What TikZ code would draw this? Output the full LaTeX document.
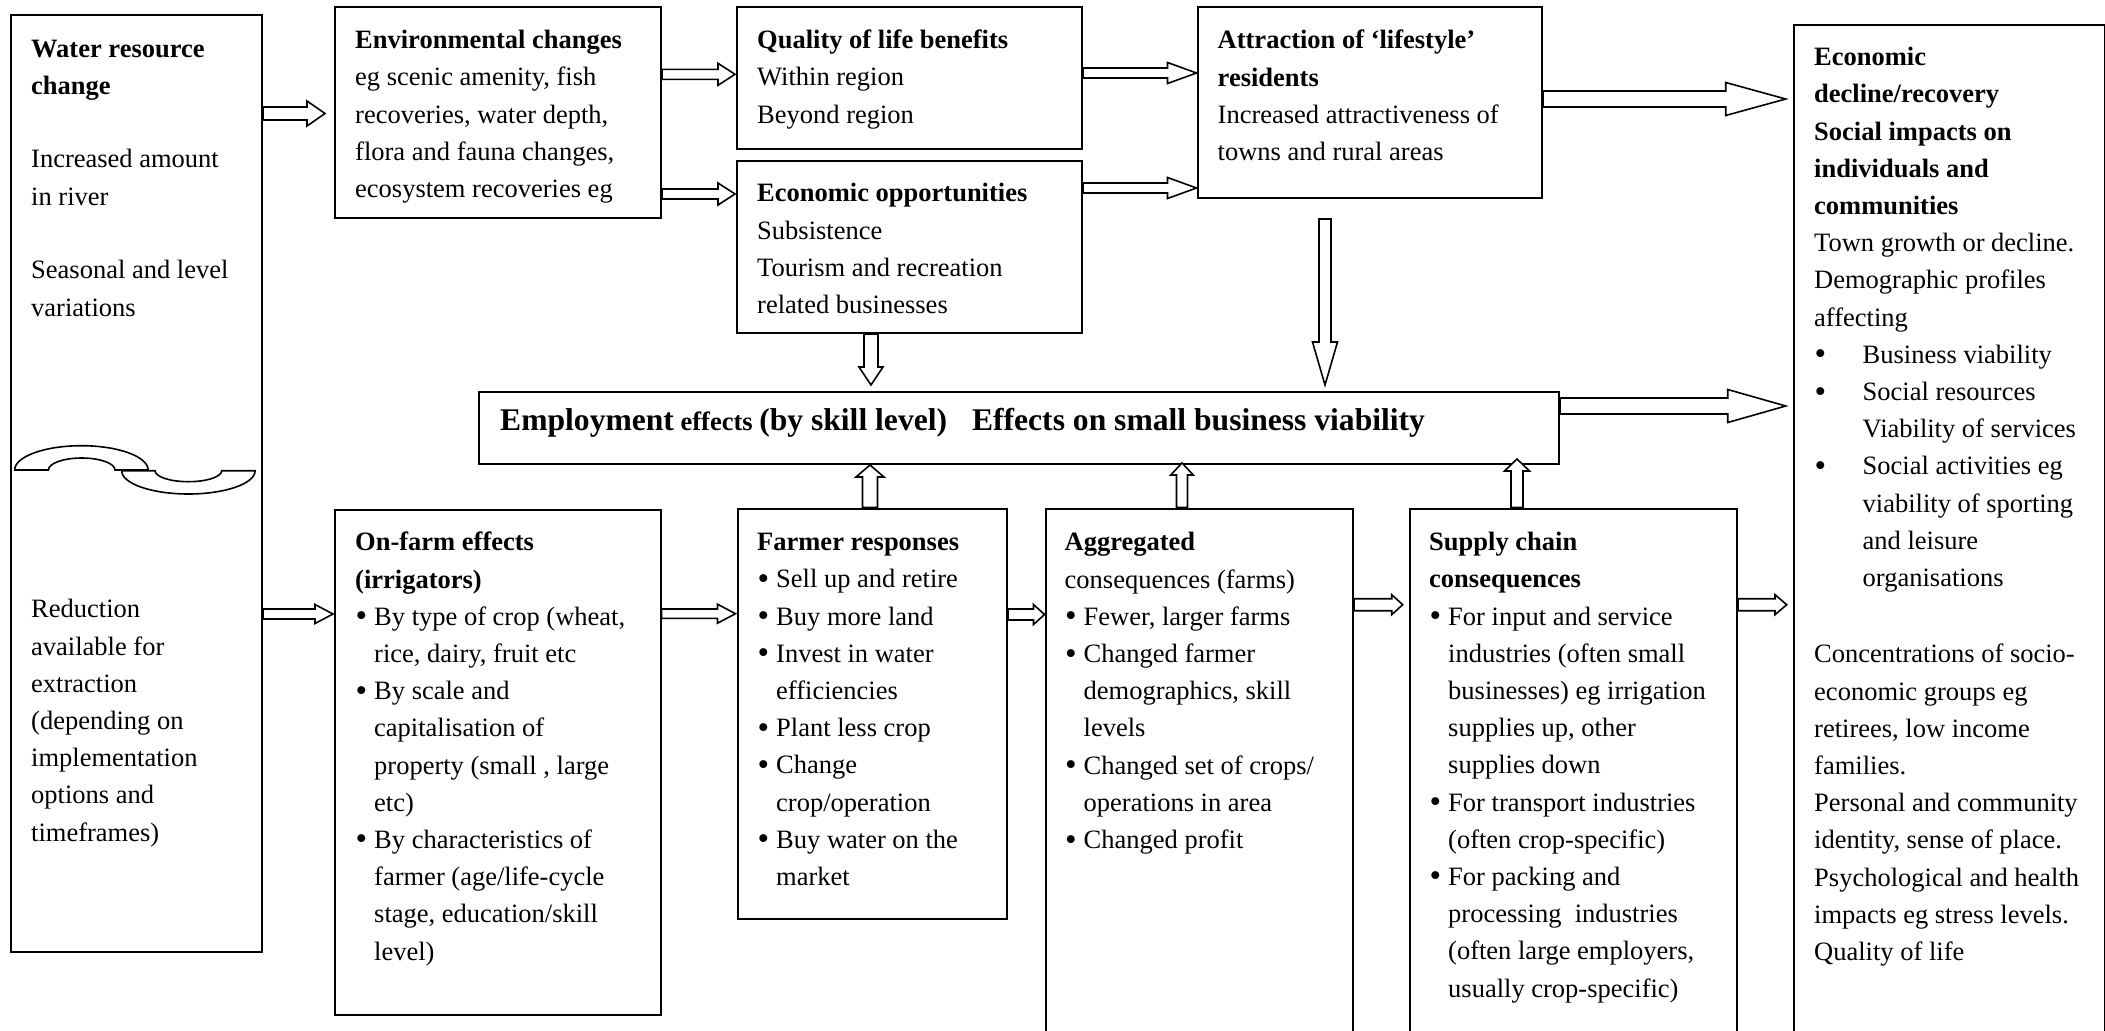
\documentclass[tikz,border=0pt]{standalone}
\usepackage{fontspec}
\setmainfont{Liberation Serif}
\usetikzlibrary{calc}
\newcommand\bodyf{\fontsize{26.5pt}{37.2pt}\selectfont}
\newcommand\bigf{\fontsize{31.6pt}{38pt}\selectfont}
\newcommand\bigdot{\raisebox{-1.5pt}{\fontsize{33pt}{37.2pt}\selectfont •}}
\newcommand\bu{\makebox[19pt][l]{\hspace{0.5pt}\bigdot}}
\newcommand\ii{\hspace*{19pt}}
\newcommand\rbu{\makebox[48.5pt][l]{\hspace{0.5pt}\bigdot}}
\newcommand\rii{\hspace*{48.5pt}}
% block arrows: #1 tail coord, #2 tip coord, #3 shaft half width, #4 head half width, #5 head length
\newcommand\rarr[5]{\draw[barrow] ($(#1)+(0,-#3)$) -- ($(#2)+(-#5,-#3)$) -- ($(#2)+(-#5,-#4)$) -- (#2) -- ($(#2)+(-#5,#4)$) -- ($(#2)+(-#5,#3)$) -- ($(#1)+(0,#3)$) -- cycle;}
\newcommand\darr[5]{\draw[barrow] ($(#1)+(-#3,0)$) -- ($(#2)+(-#3,-#5)$) -- ($(#2)+(-#4,-#5)$) -- (#2) -- ($(#2)+(#4,-#5)$) -- ($(#2)+(#3,-#5)$) -- ($(#1)+(#3,0)$) -- cycle;}
\newcommand\uarr[5]{\draw[barrow] ($(#1)+(-#3,0)$) -- ($(#2)+(-#3,#5)$) -- ($(#2)+(-#4,#5)$) -- (#2) -- ($(#2)+(#4,#5)$) -- ($(#2)+(#3,#5)$) -- ($(#1)+(#3,0)$) -- cycle;}
\begin{document}
\begin{tikzpicture}[x=1pt,y=-1pt,
  box/.style={draw, line width=2pt, inner sep=0pt, anchor=north west},
  txt/.style={anchor=base west, inner sep=0pt, align=left, font=\bodyf},
  barrow/.style={draw, fill=white, line width=1.6pt, line join=miter},
  wave/.style={draw, fill=white, line width=1.6pt}]
\useasboundingbox (0,0) rectangle (2105,1031);
\clip (0,0) rectangle (2105,1031);
\fill[white] (0,0) rectangle (2105,1031);

% boxes
\node[box, minimum width=251pt, minimum height=937pt] (wr) at (10,14) {};
\node[box, minimum width=326pt, minimum height=211.3pt] (env) at (334,5.7) {};
\node[box, minimum width=345pt, minimum height=141.8pt] (qual) at (736,5.7) {};
\node[box, minimum width=345pt, minimum height=172.5pt] (econ) at (736,159.5) {};
\node[box, minimum width=344.5pt, minimum height=191.3pt] (attr) at (1196.5,5.7) {};
\node[box, minimum width=1080pt, minimum height=72pt] (emp) at (478,391) {};
\node[box, minimum width=325.5pt, minimum height=505pt] (onfarm) at (334,509) {};
\node[box, minimum width=269.5pt, minimum height=410.5pt] (farmer) at (736.5,507.5) {};
\node[box, minimum width=307.5pt, minimum height=540pt] (agg) at (1044.5,507.5) {};
\node[box, minimum width=327pt, minimum height=540pt] (supply) at (1409,507.5) {};
\node[box, minimum width=311.3pt, minimum height=1025pt] (right) at (1792.7,24) {};

% wave symbol
\draw[wave] (14.7,470) arc[start angle=180, end angle=0, x radius=66.7pt, y radius=24.3pt]
  -- (115,470) arc[start angle=0, end angle=180, x radius=33.3pt, y radius=12pt] -- cycle;
\draw[wave] (121.7,470.7) arc[start angle=180, end angle=360, x radius=66.7pt, y radius=23.3pt]
  -- (221.7,470.7) arc[start angle=360, end angle=180, x radius=33.3pt, y radius=11pt] -- cycle;

% texts (anchor = baseline of the last line)
\node[txt] (twr1) at (31,94.5) {\textbf{Water resource}\\\textbf{change}};
\node[txt] (twr2) at (31,205) {Increased amount\\in river};
\node[txt] (twr3) at (31,316) {Seasonal and level\\variations};
\node[txt] (twr4) at (31,841) {Reduction\\available for\\extraction\\(depending on\\implementation\\options and\\timeframes)};
\node[txt] (tenv) at (355,197.5) {\textbf{Environmental changes}\\eg scenic amenity, fish\\recoveries, water depth,\\flora and fauna changes,\\ecosystem recoveries eg};
\node[txt] (tqual) at (757,123) {\textbf{Quality of life benefits}\\Within region\\Beyond region};
\node[txt] (tecon) at (757,313.5) {\textbf{Economic opportunities}\\Subsistence\\Tourism and recreation\\related businesses};
\node[txt] (tattr) at (1217.5,160.5) {\textbf{Attraction of ‘lifestyle’}\\\textbf{residents}\\Increased attractiveness of\\towns and rural areas};
\node[txt] (temp) at (500,430.5) {\textbf{{\bigf Employment} effects {\bigf (by skill level)\hspace{17pt} Effects on small business viability}}};
\node[txt] (tonf) at (355,960) {\textbf{On-farm effects}\\\textbf{(irrigators)}\\\bu By type of crop (wheat,\\\ii rice, dairy, fruit etc\\\bu By scale and\\\ii capitalisation of\\\ii property (small , large\\\ii etc)\\\bu By characteristics of\\\ii farmer (age/life-cycle\\\ii stage, education/skill\\\ii level)};
\node[txt] (tfarm) at (757,885.5) {\textbf{Farmer responses}\\\bu Sell up and retire\\\bu Buy more land\\\bu Invest in water\\\ii efficiencies\\\bu Plant less crop\\\bu Change\\\ii crop/operation\\\bu Buy water on the\\\ii market};
\node[txt] (tagg) at (1064.5,848.5) {\textbf{Aggregated}\\consequences (farms)\\\bu Fewer, larger farms\\\bu Changed farmer\\\ii demographics, skill\\\ii levels\\\bu Changed set of crops/\\\ii operations in area\\\bu Changed profit};
\node[txt] (tsup) at (1429,997) {\textbf{Supply chain}\\\textbf{consequences}\\\bu For input and service\\\ii industries (often small\\\ii businesses) eg irrigation\\\ii supplies up, other\\\ii supplies down\\\bu For transport industries\\\ii (often crop-specific)\\\bu For packing and\\\ii processing\ \ industries\\\ii (often large employers,\\\ii usually crop-specific)};
\node[txt] (tr1) at (1814,586.5) {\textbf{Economic}\\\textbf{decline/recovery}\\\textbf{Social impacts on}\\\textbf{individuals and}\\\textbf{communities}\\Town growth or decline.\\Demographic profiles\\affecting\\\rbu Business viability\\\rbu Social resources\\\rii Viability of services\\\rbu Social activities eg\\\rii viability of sporting\\\rii and leisure\\\rii organisations};
\node[txt] (tr2) at (1814,960.5) {Concentrations of socio-\\economic groups eg\\retirees, low income\\families.\\Personal and community\\identity, sense of place.\\Psychological and health\\impacts eg stress levels.\\Quality of life};

% arrow end points
\coordinate (a1s) at (wr.east |- 0,113.5);
\coordinate (a1t) at ($(env.west |- 0,113.5)+(-9,0)$);
\coordinate (a2s) at (wr.east |- 0,614);
\coordinate (a2t) at ($(onfarm.west |- 0,614)+(-1,0)$);
\coordinate (a3s) at (env.east |- 0,74.3);
\coordinate (a3t) at ($(qual.west |- 0,74.3)+(-1,0)$);
\coordinate (a4s) at (env.east |- 0,194);
\coordinate (a4t) at ($(econ.west |- 0,194)+(-1,0)$);
\coordinate (a5s) at (qual.east |- 0,73);
\coordinate (a5t) at (attr.west |- 0,73);
\coordinate (a6s) at (econ.east |- 0,188);
\coordinate (a6t) at (attr.west |- 0,188);
\coordinate (a7s) at (attr.east |- 0,99);
\coordinate (a7t) at ($(right.west |- 0,99)+(-7,0)$);
\coordinate (a8s) at (emp.east |- 0,406);
\coordinate (a8t) at ($(right.west |- 0,406)+(-7,0)$);
\coordinate (a9s) at (871,0 |- econ.south);
\coordinate (a9t) at ($(871,0 |- emp.north)+(0,-6)$);
\coordinate (a10s) at ($(1325,0 |- attr.south)+(0,20)$);
\coordinate (a10t) at ($(1325,0 |- emp.north)+(0,-6)$);
\coordinate (a11s) at (870,0 |- farmer.north);
\coordinate (a11t) at (870,0 |- emp.south);
\coordinate (a12s) at (1182,0 |- agg.north);
\coordinate (a12t) at ($(1182,0 |- emp.south)+(0,-2)$);
\coordinate (a13s) at (1517,0 |- supply.north);
\coordinate (a13t) at ($(1517,0 |- emp.south)+(0,-6)$);
\coordinate (a14s) at (onfarm.east |- 0,613.7);
\coordinate (a14t) at ($(farmer.west |- 0,613.7)+(-1,0)$);
\coordinate (a15s) at (farmer.east |- 0,614.5);
\coordinate (a15t) at (agg.west |- 0,614.5);
\coordinate (a16s) at (agg.east |- 0,604.7);
\coordinate (a16t) at ($(supply.west |- 0,604.7)+(-6.3,0)$);
\coordinate (a17s) at (supply.east |- 0,604.7);
\coordinate (a17t) at ($(right.west |- 0,604.7)+(-6,0)$);

% block arrows
\rarr{a1s}{a1t}{6.5}{12.5}{18}
\rarr{a2s}{a2t}{5}{9.5}{18}
\rarr{a3s}{a3t}{5}{11}{17}
\rarr{a4s}{a4t}{5}{11}{17}
\rarr{a5s}{a5t}{5}{10.5}{29}
\rarr{a6s}{a6t}{5}{10.5}{29}
\rarr{a7s}{a7t}{8}{16.5}{60}
\rarr{a8s}{a8t}{8}{16.5}{58}
\darr{a9s}{a9t}{7}{12}{18}
\darr{a10s}{a10t}{6}{12.5}{43}
\uarr{a11s}{a11t}{7.5}{14}{12}
\uarr{a12s}{a12t}{5.5}{11.3}{12}
\uarr{a13s}{a13t}{6}{12.5}{12}
\rarr{a14s}{a14t}{4.7}{9.5}{18}
\rarr{a15s}{a15t}{5.5}{10}{11}
\rarr{a16s}{a16t}{6}{10}{11}
\rarr{a17s}{a17t}{6}{10}{11.7}
\end{tikzpicture}
\end{document}
